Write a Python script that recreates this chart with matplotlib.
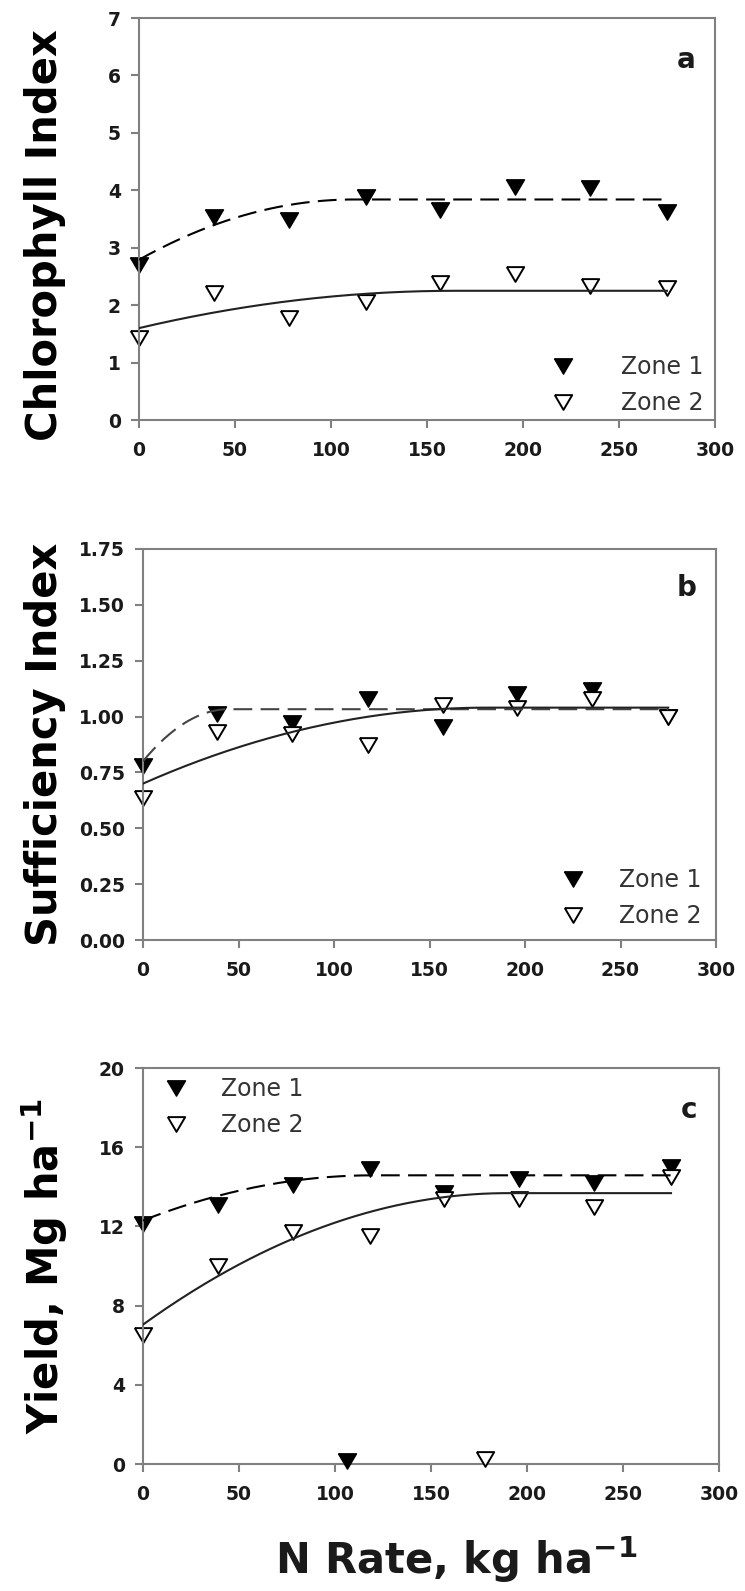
import matplotlib.pyplot as plt
import numpy as np
from matplotlib.lines import Line2D

# N rates, kg/ha
n_rate = [0, 39, 78, 118, 157, 196, 235, 275]

chl_zone1 = [2.70, 3.54, 3.48, 3.89, 3.66, 4.06, 4.04, 3.63]
chl_zone2 = [1.42, 2.21, 1.77, 2.06, 2.38, 2.55, 2.33, 2.29]

si_zone1 = [0.78, 1.01, 0.97, 1.08, 0.955, 1.10, 1.12, 1.00]
si_zone2 = [0.635, 0.93, 0.92, 0.875, 1.05, 1.04, 1.08, 1.00]

yld_zone1 = [12.1, 13.1, 14.1, 14.9, 13.7, 14.4, 14.2, 15.0]
yld_zone2 = [6.5, 10.0, 11.7, 11.5, 13.4, 13.4, 13.0, 14.5]
# two stray markers sitting on the x axis of panel c
stray_x = [106, 178]
stray_y = [0.15, 0.25]

# quadratic-plateau fits: (intercept, plateau, join point)
chl_fit1 = (2.79, 3.84, 112)
chl_fit2 = (1.60, 2.25, 165)
si_fit1 = (0.80, 1.033, 45)
si_fit2 = (0.70, 1.04, 180)
yld_fit1 = (12.3, 14.58, 120)
yld_fit2 = (7.04, 13.68, 190)

W, H = 745, 1591
GRAY = "#808080"
TXT = "#1a1a1a"
# slightly flattened down-triangle
TRI = [(-1, 0.85), (1, 0.85), (0, -0.85), (-1, 0.85)]
FILLED = dict(marker=TRI, ms=13, mfc="black", mec="black", mew=1.0)
OPEN = dict(marker=TRI, ms=12.5, mfc="white", mec="black", mew=1.4)


def qp_curve(fit, x_end=275):
    a, p, xj = fit
    b = 2 * (p - a) / xj
    c = -b / (2 * xj)
    x = np.linspace(0, x_end, 300)
    y = np.where(x < xj, a + b * x + c * x ** 2, p)
    return x, y


def style_axis(ax, ymax, ystep, fmt):
    ax.set_xlim(0, 300)
    ax.set_ylim(0, ymax)
    ax.set_xticks(np.arange(0, 301, 50))
    ticks = np.arange(0, ymax + ystep / 2, ystep)
    ax.set_yticks(ticks)
    ax.set_yticklabels([fmt.format(v) for v in ticks])
    for s in ax.spines.values():
        s.set_color(GRAY)
        s.set_linewidth(1.5)
    ax.tick_params(direction="out", length=6, width=1.5, color=GRAY,
                   labelcolor=TXT, labelsize=13.5)
    ax.tick_params(axis="x", pad=9)
    ax.tick_params(axis="y", pad=7)
    for lab in ax.get_xticklabels() + ax.get_yticklabels():
        lab.set_fontweight("bold")


def draw_panel(ax, z1, z2, f1, f2, dash_color="black"):
    ax.plot(n_rate, z1, ls="none", clip_on=False, zorder=2, **FILLED)
    ax.plot(n_rate, z2, ls="none", clip_on=False, zorder=2.5, **OPEN)
    x, y = qp_curve(f1)
    ax.plot(x, y, color=dash_color, lw=1.5, dashes=(9, 4), zorder=3)
    x, y = qp_curve(f2)
    ax.plot(x, y, color="#222222", lw=1.5, zorder=3)


def add_legend(ax, **kw):
    h1 = Line2D([], [], ls="none", **FILLED)
    h2 = Line2D([], [], ls="none", **OPEN)
    leg = ax.legend([h1, h2], ["Zone 1", "Zone 2"], frameon=False,
                    prop={"size": 17}, borderpad=0, borderaxespad=0,
                    handlelength=1.5, labelspacing=0.5, **kw)
    for t in leg.get_texts():
        t.set_color("#333333")
    return leg


fig = plt.figure(figsize=(W / 100, H / 100), dpi=100)

ax_a = fig.add_axes([139 / W, 1 - 420 / H, 576 / W, 402 / H])
ax_b = fig.add_axes([143 / W, 1 - 940 / H, 573 / W, 391 / H])
ax_c = fig.add_axes([143 / W, 1 - 1464 / H, 576 / W, 396 / H])

# panel a
draw_panel(ax_a, chl_zone1, chl_zone2, chl_fit1, chl_fit2)
style_axis(ax_a, 7, 1, "{:.0f}")
add_legend(ax_a, loc="lower right", bbox_to_anchor=(0.98, 0.012), handletextpad=1.7)
ax_a.text(0.95, 0.895, "a", transform=ax_a.transAxes, fontsize=20,
          fontweight="bold", ha="center", va="center", color=TXT)
ax_a.set_ylabel("Chlorophyll Index", fontsize=30, fontweight="bold", va="center")
ax_a.yaxis.set_label_coords((45 - 139) / 576, 0.46)

# panel b
draw_panel(ax_b, si_zone1, si_zone2, si_fit1, si_fit2, dash_color="#444444")
style_axis(ax_b, 1.75, 0.25, "{:.2f}")
add_legend(ax_b, loc="lower right", bbox_to_anchor=(0.975, 0.03), handletextpad=1.2)
ax_b.text(0.948, 0.90, "b", transform=ax_b.transAxes, fontsize=20,
          fontweight="bold", ha="center", va="center", color=TXT)
ax_b.set_ylabel("Sufficiency Index", fontsize=30, fontweight="bold", va="center")
ax_b.yaxis.set_label_coords((45 - 143) / 573, 0.5)

# panel c
draw_panel(ax_c, yld_zone1, yld_zone2, yld_fit1, yld_fit2)
ax_c.plot(stray_x[:1], stray_y[:1], ls="none", clip_on=False, zorder=4, **FILLED)
ax_c.plot(stray_x[1:], stray_y[1:], ls="none", clip_on=False, zorder=4, **OPEN)
style_axis(ax_c, 20, 4, "{:.0f}")
add_legend(ax_c, loc="upper left", bbox_to_anchor=(0.026, 0.977), handletextpad=1.15)
ax_c.text(0.948, 0.894, "c", transform=ax_c.transAxes, fontsize=20,
          fontweight="bold", ha="center", va="center", color=TXT)
ax_c.set_ylabel("Yield, Mg ha$^{\\mathbf{-1}}$", fontsize=30, fontweight="bold",
                va="center")
ax_c.yaxis.set_label_coords((45 - 143) / 576, 0.5)

fig.text(456 / W, 1 - 1560 / H, "N Rate, kg ha$^{\\mathbf{-1}}$", fontsize=30,
         fontweight="bold", ha="center", va="center", color=TXT)

fig.savefig("out.png", dpi=100)
